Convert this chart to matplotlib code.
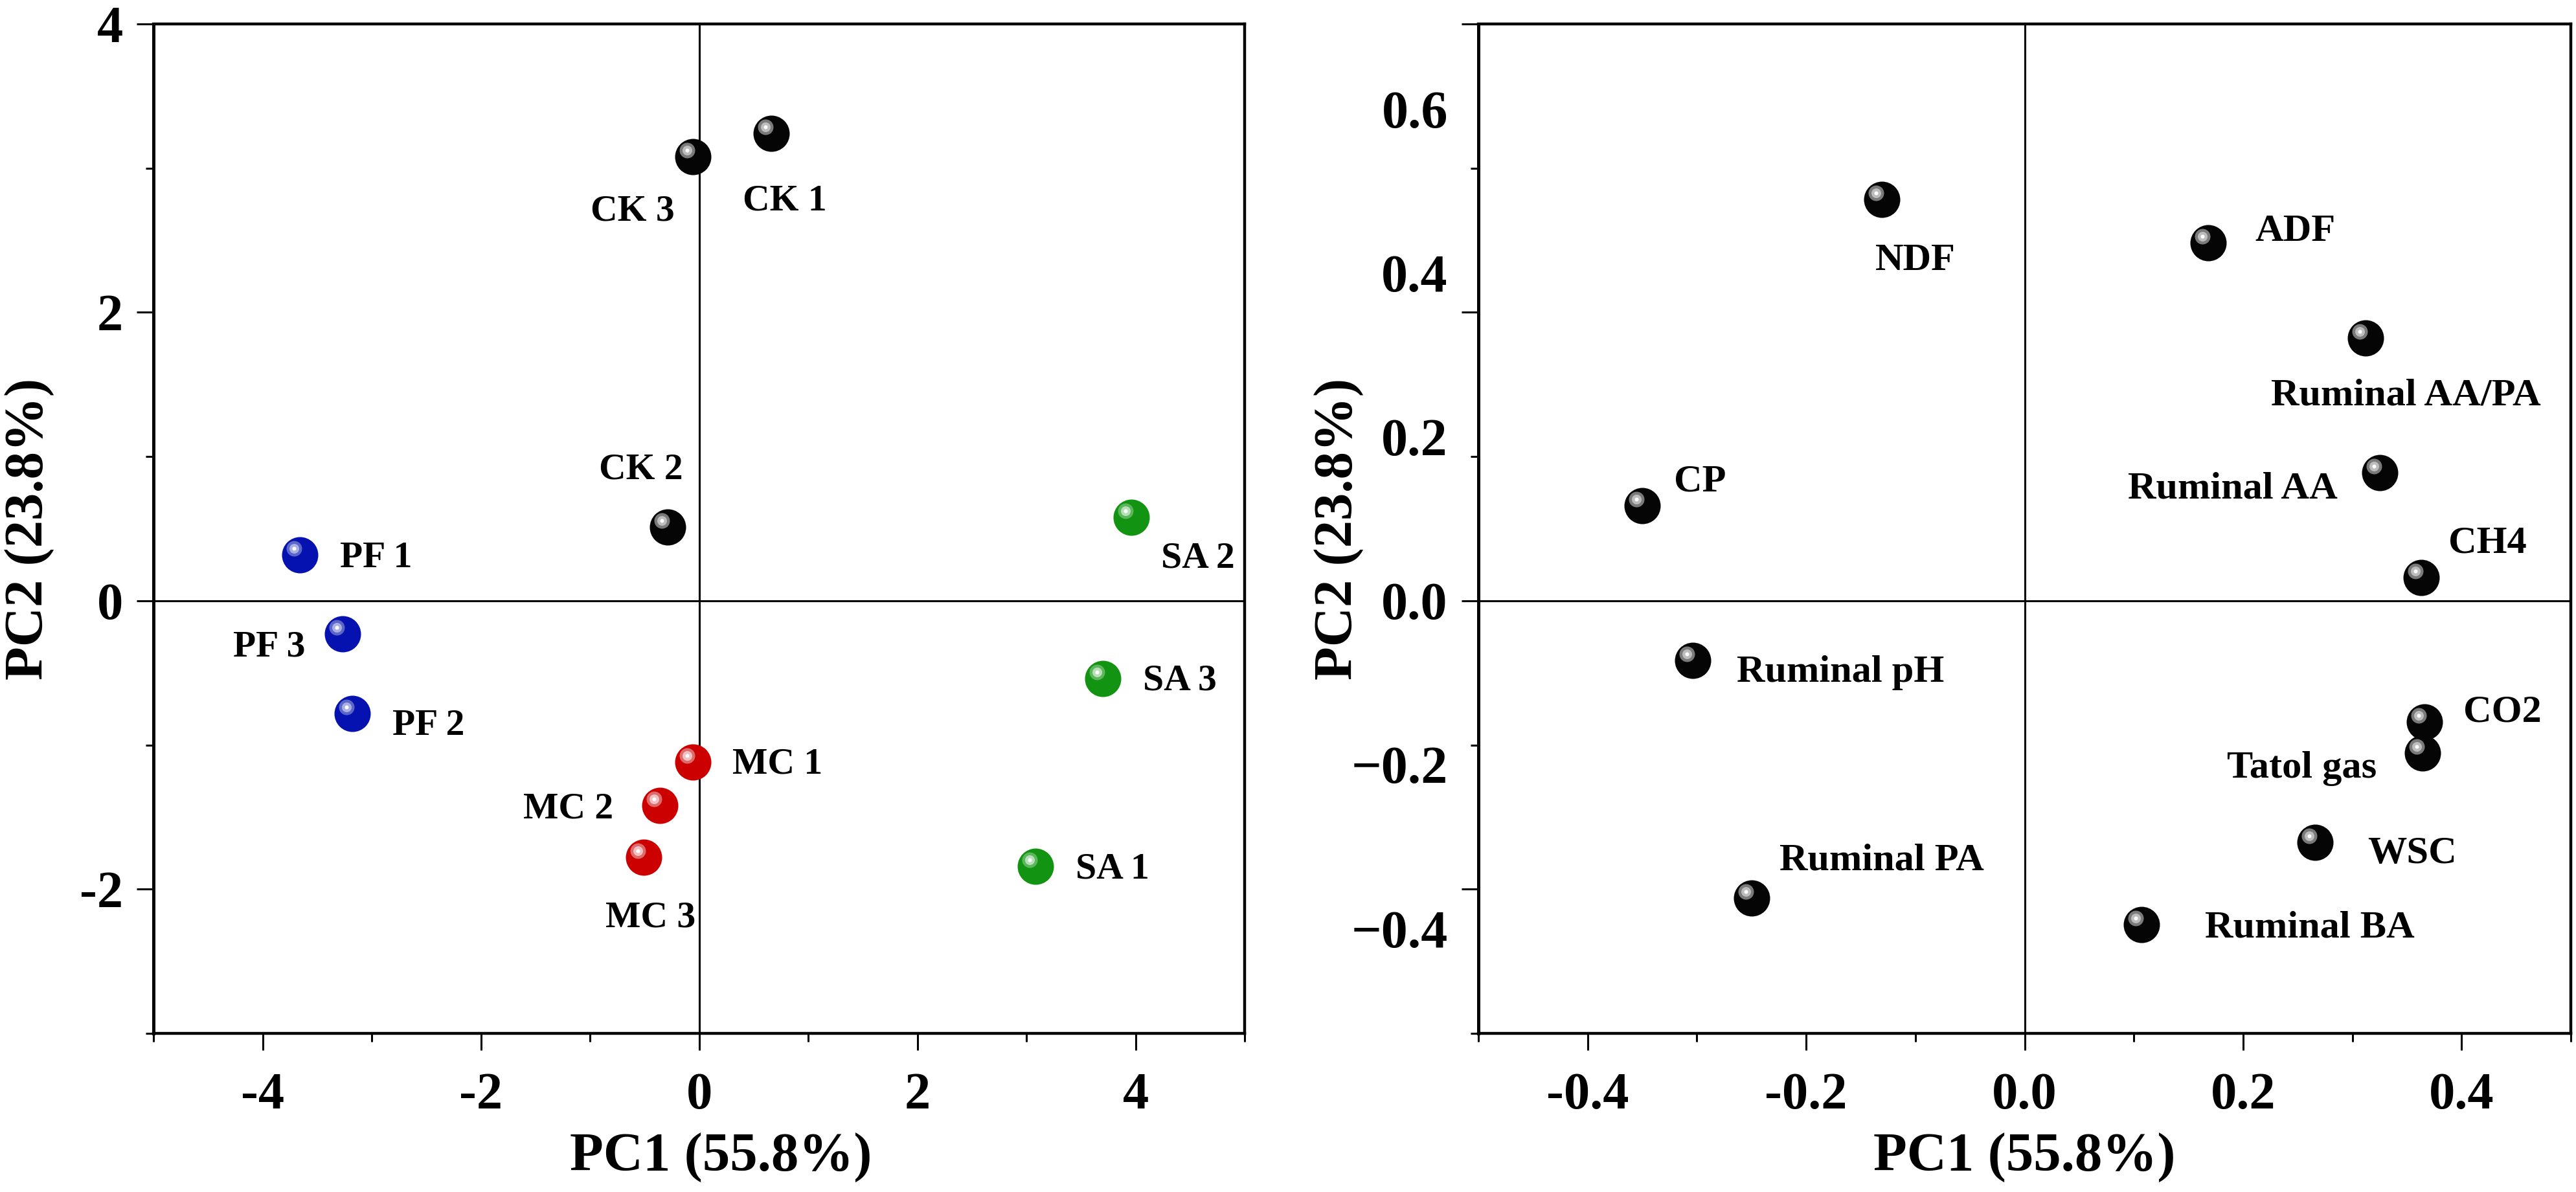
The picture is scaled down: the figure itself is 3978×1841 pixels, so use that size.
import matplotlib
matplotlib.use("Agg")
import matplotlib.pyplot as plt
from matplotlib.transforms import offset_copy

plt.rcParams['font.family'] = ['Liberation Serif', 'DejaVu Serif']
plt.rcParams['font.weight'] = 'bold'
plt.rcParams['axes.labelweight'] = 'bold'
plt.rcParams['axes.unicode_minus'] = False

# ---- sample scores (left panel) ----
sample_labels = ['CK 1', 'CK 2', 'CK 3',
                 'PF 1', 'PF 2', 'PF 3',
                 'MC 1', 'MC 2', 'MC 3',
                 'SA 1', 'SA 2', 'SA 3']
sample_group = ['CK', 'CK', 'CK', 'PF', 'PF', 'PF',
                'MC', 'MC', 'MC', 'SA', 'SA', 'SA']
sample_pc1 = [0.66, -0.29, -0.06,
              -3.66, -3.18, -3.27,
              -0.06, -0.36, -0.51,
              3.08, 3.96, 3.70]
sample_pc2 = [3.24, 0.51, 3.08,
              0.32, -0.78, -0.23,
              -1.12, -1.42, -1.78,
              -1.84, 0.58, -0.54]

# ---- variable loadings (right panel) ----
var_labels = ['CP', 'NDF', 'ADF', 'Ruminal AA/PA', 'Ruminal AA', 'CH4',
              'Ruminal pH', 'Ruminal PA', 'CO2', 'Tatol gas', 'WSC', 'Ruminal BA']
var_pc1 = [-0.350, -0.131, 0.168, 0.312, 0.325, 0.363,
           -0.304, -0.250, 0.366, 0.364, 0.266, 0.107]
var_pc2 = [0.116, 0.490, 0.437, 0.321, 0.156, 0.028,
           -0.073, -0.363, -0.148, -0.186, -0.295, -0.395]

xlabel = 'PC1 (55.8%)'
ylabel = 'PC2 (23.8%)'

left_xticks = [-4, -2, 0, 2, 4]
left_yticks = [-2, 0, 2, 4]
right_xticks = [-0.4, -0.2, 0.0, 0.2, 0.4]
right_ylabels_at = [-0.4, -0.2, 0.0, 0.2, 0.4, 0.6]
right_ylabels = ['\u22120.4', '\u22120.2', '0.0', '0.2', '0.4', '0.6']

# sphere colours: base, outer highlight ring, inner highlight ring
group_colors = {
    'CK': ('#050505', '#7a7a7a', '#bdbdbd'),
    'PF': ('#0612b0', '#5a66c8', '#aab0e4'),
    'MC': ('#cc0000', '#de6a6a', '#f2c0c0'),
    'SA': ('#129412', '#5cb65c', '#b8e0b8'),
}
black_ball = group_colors['CK']

# label placement in pixels: (dx to text edge, dy down to cap centre, ha)
sample_offsets = {
    'CK 1': (-44, 99, 'left'), 'CK 2': (24, -94, 'right'), 'CK 3': (-28, 80, 'right'),
    'PF 1': (62, 0, 'left'), 'PF 2': (62, 14, 'left'), 'PF 3': (-57, 15, 'right'),
    'MC 1': (61, -2, 'left'), 'MC 2': (-72, 0, 'right'), 'MC 3': (-59, 88, 'left'),
    'SA 1': (62, 0, 'left'), 'SA 2': (46, 59, 'left'), 'SA 3': (62, -2, 'left'),
}
var_offsets = {
    'CP': (49, -43, 'left'), 'NDF': (-10, 89, 'left'), 'ADF': (72, -23, 'left'),
    'Ruminal AA/PA': (-146, 84, 'left'), 'Ruminal AA': (-65, 19, 'right'),
    'CH4': (42, -59, 'left'), 'Ruminal pH': (68, 13, 'left'),
    'Ruminal PA': (43, -64, 'left'), 'CO2': (60, -21, 'left'),
    'Tatol gas': (-70, 18, 'right'), 'WSC': (81, 12, 'left'),
    'Ruminal BA': (98, 0, 'left'),
}

PX = 0.72  # points per pixel at dpi 100

fig = plt.figure(figsize=(39.78, 18.41), dpi=100)
ax1 = fig.add_axes([0.0596, 0.1331, 0.4236, 0.8468])
ax2 = fig.add_axes([0.5739, 0.1331, 0.4241, 0.8468])


def spheres(ax, xs, ys, colors):
    base, ring1, ring2 = colors
    hl = offset_copy(ax.transData, fig=fig, x=-9 * PX, y=10 * PX, units='points')
    ax.scatter(xs, ys, s=(56 * PX) ** 2, color=base, linewidths=0, zorder=4)
    ax.scatter(xs, ys, s=(24 * PX) ** 2, color=ring1, linewidths=0, zorder=5, transform=hl)
    ax.scatter(xs, ys, s=(15 * PX) ** 2, color=ring2, linewidths=0, zorder=6, transform=hl)
    ax.scatter(xs, ys, s=(6 * PX) ** 2, color='white', linewidths=0, zorder=7, transform=hl)


def put_labels(ax, names, xs, ys, offsets, size, half_cap):
    for name, x, y in zip(names, xs, ys):
        dx, dy, ha = offsets[name]
        ax.annotate(name, (x, y), xytext=(dx * PX, -(dy + half_cap) * PX),
                    textcoords='offset points', ha=ha, va='baseline',
                    fontsize=size, fontweight='bold', zorder=8)


def style(ax):
    for side, sp in ax.spines.items():
        sp.set_linewidth(3.2)
    ax.spines['left'].set_linewidth(3.6)
    ax.axhline(0, color='black', lw=2.2, zorder=1)
    ax.axvline(0, color='black', lw=2.2, zorder=1)
    ax.tick_params(which='major', direction='out', length=19, width=2.2, labelsize=58)
    ax.tick_params(which='minor', direction='out', length=9, width=2.2)
    ax.tick_params(axis='x', which='major', pad=24)
    ax.tick_params(axis='y', which='major', pad=15)


# ---- left panel: scores ----
for g in ['CK', 'PF', 'MC', 'SA']:
    xs = [x for x, gg in zip(sample_pc1, sample_group) if gg == g]
    ys = [y for y, gg in zip(sample_pc2, sample_group) if gg == g]
    spheres(ax1, xs, ys, group_colors[g])
put_labels(ax1, sample_labels, sample_pc1, sample_pc2, sample_offsets, 41.5, 19)

ax1.set_xlim(-5, 5)
ax1.set_ylim(-3, 4)
ax1.set_xticks(left_xticks)
ax1.set_xticks([-5, -3, -1, 1, 3, 5], minor=True)
ax1.set_yticks(left_yticks)
ax1.set_yticks([-3, -1, 1, 3], minor=True)
style(ax1)
ax1.set_xlabel(xlabel, fontsize=61)
ax1.set_ylabel(ylabel, fontsize=61)
ax1.xaxis.set_label_coords(0.52, -0.098)
ax1.yaxis.set_label_coords(-0.091, 0.5)

# ---- right panel: loadings ----
spheres(ax2, var_pc1, var_pc2, black_ball)
put_labels(ax2, var_labels, var_pc1, var_pc2, var_offsets, 43.5, 20)

# the published panel reuses the left frame's tick marks (step 0.176),
# which do not line up with its value labels
step = 0.176
ax2.set_xlim(-0.5, 0.5)
ax2.set_ylim(-3 * step, 4 * step)
ax2.set_xticks(right_xticks)
ax2.set_xticklabels(['%.1f' % v for v in right_xticks])
ax2.set_xticks([-0.5, -0.3, -0.1, 0.1, 0.3, 0.5], minor=True)
ax2.set_yticks([-2 * step, 0, 2 * step, 4 * step])
ax2.set_yticklabels([])
ax2.set_yticks([-3 * step, -step, step, 3 * step], minor=True)
style(ax2)

sec = ax2.secondary_yaxis('left')
sec.set_yticks(right_ylabels_at, labels=right_ylabels)
sec.tick_params(length=0, pad=34, labelsize=59)
sec.spines['left'].set_visible(False)

ax2.set_xlabel(xlabel, fontsize=61)
ax2.set_ylabel(ylabel, fontsize=61)
ax2.xaxis.set_label_coords(0.5, -0.098)
ax2.yaxis.set_label_coords(-0.105, 0.5)

fig.savefig('out.png', dpi=100, facecolor='white')
